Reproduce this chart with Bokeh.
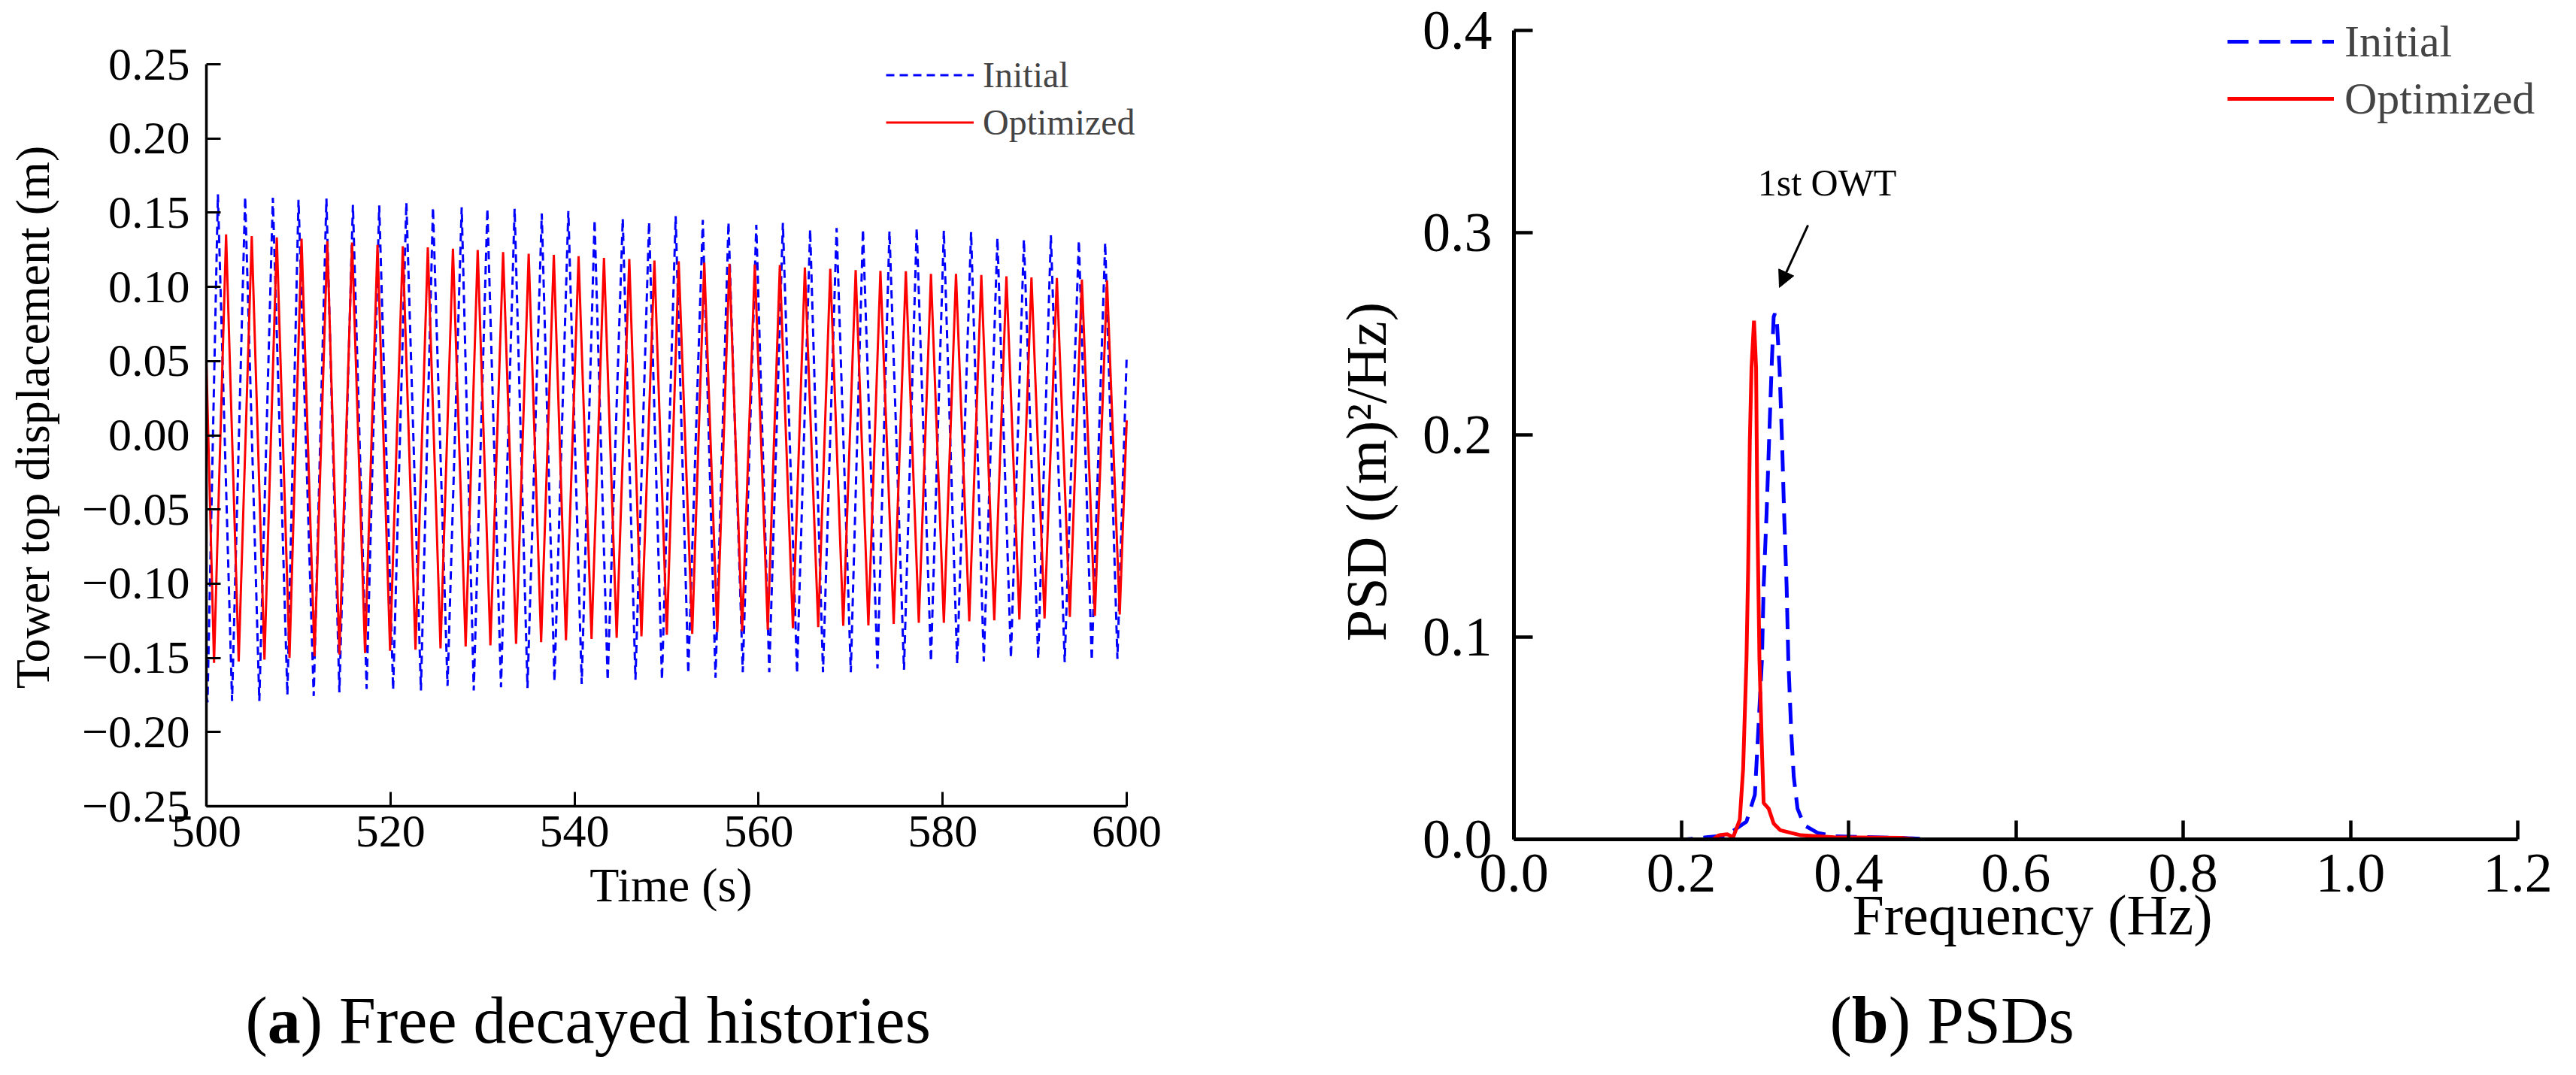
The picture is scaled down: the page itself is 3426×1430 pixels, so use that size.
from bokeh.plotting import figure
from bokeh.layouts import row, column
from bokeh.models import Range1d, FixedTicker, Arrow, NormalHead
from bokeh.core.properties import value
from bokeh.embed import file_html
from bokeh.resources import INLINE

FONT = "Liberation Serif"
NB = "\u00a0"

# ---------------- (a) free decayed histories (extrema) ----------------
opt_start_t, opt_start_v = 500.0, 0.050
opt_end_t, opt_end_v = 600.0, 0.010
opt_trough_t = [500.83, 503.51, 506.31, 509.03, 511.75, 514.45, 517.24, 519.96, 522.72, 525.44,
                528.17, 530.86, 533.65, 536.37, 539.07, 541.85, 544.58, 547.27, 550.03, 552.79,
                555.51, 558.21, 561.00, 563.73, 566.48, 569.20, 571.93, 574.68, 577.41, 580.13,
                582.89, 585.61, 588.34, 591.07, 593.82, 596.54, 599.24]
opt_trough_v = [-0.1534, -0.1524, -0.1512, -0.1500, -0.1490, -0.1478, -0.1467, -0.1453, -0.1445, -0.1436,
                -0.1423, -0.1416, -0.1406, -0.1394, -0.1382, -0.1372, -0.1365, -0.1355, -0.1345, -0.1338,
                -0.1326, -0.1321, -0.1310, -0.1301, -0.1293, -0.1284, -0.1281, -0.1271, -0.1264, -0.1264,
                -0.1254, -0.1247, -0.1242, -0.1234, -0.1225, -0.1217, -0.1208]
opt_peak_t = [502.14, 504.93, 507.65, 510.34, 513.14, 515.83, 518.59, 521.34, 524.06, 526.79,
              529.48, 532.24, 535.02, 537.75, 540.44, 543.20, 545.95, 548.68, 551.32, 554.10,
              556.83, 559.59, 562.31, 565.03, 567.79, 570.55, 573.24, 576.00, 578.73, 581.45,
              584.20, 586.93, 589.65, 592.41, 595.13, 597.86]
opt_peak_v = [0.1354, 0.1342, 0.1333, 0.1325, 0.1308, 0.1299, 0.1283, 0.1274, 0.1266, 0.1257,
              0.1249, 0.1235, 0.1223, 0.1215, 0.1207, 0.1195, 0.1188, 0.1178, 0.1173, 0.1164,
              0.1156, 0.1151, 0.1147, 0.1131, 0.1122, 0.1113, 0.1108, 0.1105, 0.1088, 0.1088,
              0.1080, 0.1071, 0.1063, 0.1060, 0.1050, 0.1043]

ini_start_t, ini_start_v = 500.0, -0.176
ini_end_t, ini_end_v = 600.0, 0.054
ini_trough_t = [500.12, 502.79, 505.75, 508.80, 511.66, 514.45, 517.41, 520.29, 523.31, 526.20,
                529.05, 532.01, 534.89, 537.82, 540.78, 543.60, 546.62, 549.50, 552.36, 555.32,
                558.28, 561.16, 564.18, 567.00, 570.02, 572.92, 575.80, 578.73, 581.58, 584.47,
                587.42, 590.38, 593.26, 596.20, 598.99]
ini_trough_v = [-0.1800, -0.1791, -0.1791, -0.1749, -0.1757, -0.1732, -0.1710, -0.1715, -0.1720, -0.1689,
                -0.1720, -0.1698, -0.1703, -0.1659, -0.1676, -0.1652, -0.1647, -0.1647, -0.1605, -0.1635,
                -0.1597, -0.1597, -0.1605, -0.1597, -0.1597, -0.1571, -0.1580, -0.1524, -0.1541, -0.1524,
                -0.1500, -0.1507, -0.1529, -0.1517, -0.1507]
ini_peak_t = [501.25, 504.21, 507.22, 510.01, 513.04, 515.92, 518.78, 521.73, 524.62, 527.74,
              530.53, 533.49, 536.44, 539.33, 542.18, 545.24, 548.10, 550.99, 553.94, 556.73,
              559.75, 562.64, 565.60, 568.48, 571.34, 574.22, 577.18, 580.13, 583.09, 585.95,
              588.83, 591.76, 594.80, 597.66]
ini_peak_v = [0.1624, 0.1607, 0.1600, 0.1587, 0.1595, 0.1553, 0.1549, 0.1569, 0.1536, 0.1536,
              0.1527, 0.1527, 0.1494, 0.1511, 0.1451, 0.1460, 0.1438, 0.1477, 0.1451, 0.1435,
              0.1418, 0.1431, 0.1387, 0.1397, 0.1387, 0.1375, 0.1397, 0.1380, 0.1370, 0.1330,
              0.1320, 0.1347, 0.1313, 0.1299]

time_ticks = [500, 520, 540, 560, 580, 600]
time_tick_labels = ["500", "520", "540", "560", "580", "600"]
disp_ticks = [-0.25, -0.20, -0.15, -0.10, -0.05, 0.0, 0.05, 0.10, 0.15, 0.20, 0.25]
disp_tick_labels = ["\u22120.25", "\u22120.20", "\u22120.15", "\u22120.10", "\u22120.05", "0.00",
                    "0.05", "0.10", "0.15", "0.20", "0.25"]

# ---------------- (b) PSDs ----------------
opt_freq = [0.0, 0.238, 0.245, 0.255, 0.262, 0.270, 0.274, 0.278, 0.280, 0.282, 0.284, 0.287,
            0.2895, 0.291, 0.2935, 0.2965, 0.2985, 0.3045, 0.3105, 0.3185, 0.331, 0.343, 0.383,
            0.464, 0.48, 1.2]
opt_psd = [0.0, 0.0, 0.002, 0.0025, 0.001, 0.0097, 0.035, 0.089, 0.134, 0.197, 0.233, 0.2565,
           0.233, 0.161, 0.089, 0.044, 0.018, 0.0152, 0.0078, 0.0045, 0.0032, 0.002, 0.001,
           0.0007, 0.0, 0.0]
ini_freq = [0.0, 0.206, 0.230, 0.2545, 0.278, 0.288, 0.292, 0.2965, 0.2985, 0.302, 0.305, 0.308,
            0.3105, 0.312, 0.3145, 0.3175, 0.3205, 0.323, 0.326, 0.328, 0.3315, 0.3345, 0.339,
            0.347, 0.363, 0.383, 0.464, 0.5, 1.2]
ini_psd = [0.0, 0.0, 0.001, 0.002, 0.0088, 0.022, 0.053, 0.089, 0.125, 0.161, 0.197, 0.233,
           0.2584, 0.260, 0.255, 0.233, 0.197, 0.161, 0.125, 0.089, 0.053, 0.031, 0.0152,
           0.007, 0.0032, 0.0015, 0.0007, 0.0, 0.0]

freq_ticks = [0.0, 0.2, 0.4, 0.6, 0.8, 1.0, 1.2]
freq_tick_labels = ["0.0", "0.2", "0.4", "0.6", "0.8", "1.0", "1.2"]
psd_ticks = [0.0, 0.1, 0.2, 0.3, 0.4]
psd_tick_labels = ["0.0", "0.1", "0.2", "0.3", "0.4"]

note_text = ["1st OWT"]
note_x = [0.3744]
note_y = [0.3247]
arrow_from = (0.3515, 0.3037)
arrow_to = (0.3173, 0.2729)

captions = [("(", "a", ") Free decayed histories"), ("(", "b", ") PSDs")]


def merge(start_t, start_v, tt, tv, pt, pv, end_t, end_v):
    pts = sorted(list(zip(tt, tv)) + list(zip(pt, pv)))
    pts = [(start_t, start_v)] + pts + [(end_t, end_v)]
    return [p[0] for p in pts], [p[1] for p in pts]


opt_t, opt_v = merge(opt_start_t, opt_start_v, opt_trough_t, opt_trough_v,
                     opt_peak_t, opt_peak_v, opt_end_t, opt_end_v)
ini_t, ini_v = merge(ini_start_t, ini_start_v, ini_trough_t, ini_trough_v,
                     ini_peak_t, ini_peak_v, ini_end_t, ini_end_v)


def style_axes(p, tick_size, label_size, line_w, tick_w, tick_len):
    p.outline_line_color = None
    p.grid.visible = False
    p.background_fill_color = "white"
    p.border_fill_color = "white"
    for ax in p.axis:
        ax.axis_line_color = "black"
        ax.axis_line_width = line_w
        ax.major_tick_line_color = "black"
        ax.major_tick_line_width = tick_w
        ax.major_tick_in = tick_len
        ax.major_tick_out = 0
        ax.minor_tick_line_color = None
        ax.major_label_text_font = FONT
        ax.major_label_text_font_size = tick_size
        ax.major_label_text_color = "black"
        ax.axis_label_text_font = FONT
        ax.axis_label_text_font_size = label_size
        ax.axis_label_text_font_style = "normal"
        ax.axis_label_text_color = "black"


TOP = 5       # common top border (row aligns borders)
BOTTOM = 182  # common bottom border

# ---------------- left figure ----------------
p1 = figure(width=1600, height=1072 + BOTTOM, x_range=Range1d(500, 603.595), y_range=Range1d(-0.25, 0.29053),
            output_backend="svg", toolbar_location=None,
            min_border_left=274, min_border_right=58, min_border_top=TOP, min_border_bottom=BOTTOM)
style_axes(p1, "62px", "64px", 3.5, 3, 19)
p1.xaxis.ticker = FixedTicker(ticks=time_ticks)
p1.xaxis.major_label_overrides = dict(zip(time_ticks, time_tick_labels))
p1.xaxis.bounds = (500, 600)
p1.yaxis.ticker = FixedTicker(ticks=disp_ticks)
p1.yaxis.major_label_overrides = dict(zip(disp_ticks, disp_tick_labels))
p1.yaxis.bounds = (-0.25, 0.25)
p1.xaxis.axis_label = "Time (s)" + NB * 2
p1.yaxis.axis_label = "Tower top displacement (m)" + NB * 2
p1.xaxis.major_label_standoff = 13
p1.xaxis.axis_label_standoff = 13
p1.yaxis.major_label_standoff = 22
p1.yaxis.axis_label_standoff = 27

p1.line(ini_t, ini_v, line_color="#0000FF", line_width=3, line_dash="11 7", legend_label="Initial")
p1.line(opt_t, opt_v, line_color="#FF0000", line_width=3, legend_label="Optimized")

lg = p1.legend[0]
lg.location = (904, 878)
lg.padding = 0
lg.margin = 0
lg.spacing = 0
lg.glyph_width = 117
lg.glyph_height = 63
lg.label_height = 63
lg.label_standoff = 12
lg.label_text_font = FONT
lg.label_text_font_size = "48px"
lg.border_line_color = None
lg.background_fill_alpha = 0

# ---------------- right figure ----------------
p2 = figure(width=1805, height=1116 + BOTTOM, x_range=Range1d(0, 1.23955), y_range=Range1d(0, 0.41301),
            output_backend="svg", toolbar_location=None,
            min_border_left=413, min_border_right=13, min_border_top=TOP, min_border_bottom=BOTTOM)
style_axes(p2, "74px", "76px", 5, 4.5, 25)
p2.xaxis.ticker = FixedTicker(ticks=freq_ticks)
p2.xaxis.major_label_overrides = dict(zip(freq_ticks, freq_tick_labels))
p2.xaxis.bounds = (0, 1.2)
p2.yaxis.ticker = FixedTicker(ticks=psd_ticks)
p2.yaxis.major_label_overrides = dict(zip(psd_ticks, psd_tick_labels))
p2.yaxis.bounds = (0, 0.4)
p2.xaxis.axis_label = "Frequency (Hz)"
p2.yaxis.axis_label = "PSD ((m)\u00b2/Hz)" + NB * 7
p2.xaxis.major_label_standoff = 20
p2.xaxis.axis_label_standoff = -14
p2.yaxis.major_label_standoff = 29
p2.yaxis.axis_label_standoff = 30

p2.line(ini_freq, ini_psd, line_color="#0000FF", line_width=5, line_dash="28 14", legend_label="Initial")
p2.line(opt_freq, opt_psd, line_color="#FF0000", line_width=5, legend_label="Optimized")

p2.text(x=note_x, y=note_y, text=note_text, text_font=value(FONT), text_font_size="50px",
        text_align="center", text_baseline="alphabetic", text_color="black")
p2.add_layout(Arrow(end=NormalHead(size=22, fill_color="black", line_color="black", line_width=1),
                    x_start=arrow_from[0], y_start=arrow_from[1], x_end=arrow_to[0], y_end=arrow_to[1],
                    line_color="black", line_width=3))

lg2 = p2.legend[0]
lg2.location = (949, 947)
lg2.padding = 0
lg2.margin = 0
lg2.spacing = 0
lg2.glyph_width = 142
lg2.glyph_height = 76
lg2.label_height = 76
lg2.label_standoff = 14
lg2.label_text_font = FONT
lg2.label_text_font_size = "60px"
lg2.border_line_color = None
lg2.background_fill_alpha = 0

# ---------------- captions ----------------
CAP_W = 3405
CAP_H = 1410 - (1116 + BOTTOM)
cap = figure(width=CAP_W, height=CAP_H, x_range=Range1d(0, CAP_W), y_range=Range1d(0, CAP_H),
             output_backend="svg", toolbar_location=None, x_axis_type=None, y_axis_type=None,
             min_border=0)
cap.outline_line_color = None
cap.grid.visible = False
cap.background_fill_color = "white"
cap.border_fill_color = "white"
FS = 88
CAP_BASE = 53
cap_starts = [326, 2433]
bold_w = {"a": 0.5, "b": 0.556}
for (o, b, rest), x0 in zip(captions, cap_starts):
    x1 = x0 + 0.333 * FS
    x2 = x1 + bold_w[b] * FS
    cap.text(x=[x0], y=[CAP_BASE], text=[o], text_font=value(FONT), text_font_size=f"{FS}px",
             text_baseline="alphabetic", text_color="black")
    cap.text(x=[x1], y=[CAP_BASE], text=[b], text_font=value(FONT), text_font_size=f"{FS}px",
             text_font_style="bold", text_baseline="alphabetic", text_color="black")
    cap.text(x=[x2], y=[CAP_BASE], text=[rest], text_font=value(FONT), text_font_size=f"{FS}px",
             text_baseline="alphabetic", text_color="black")

layout = column(row(p1, p2), cap)
open("out.html", "w").write(file_html(layout, INLINE))
